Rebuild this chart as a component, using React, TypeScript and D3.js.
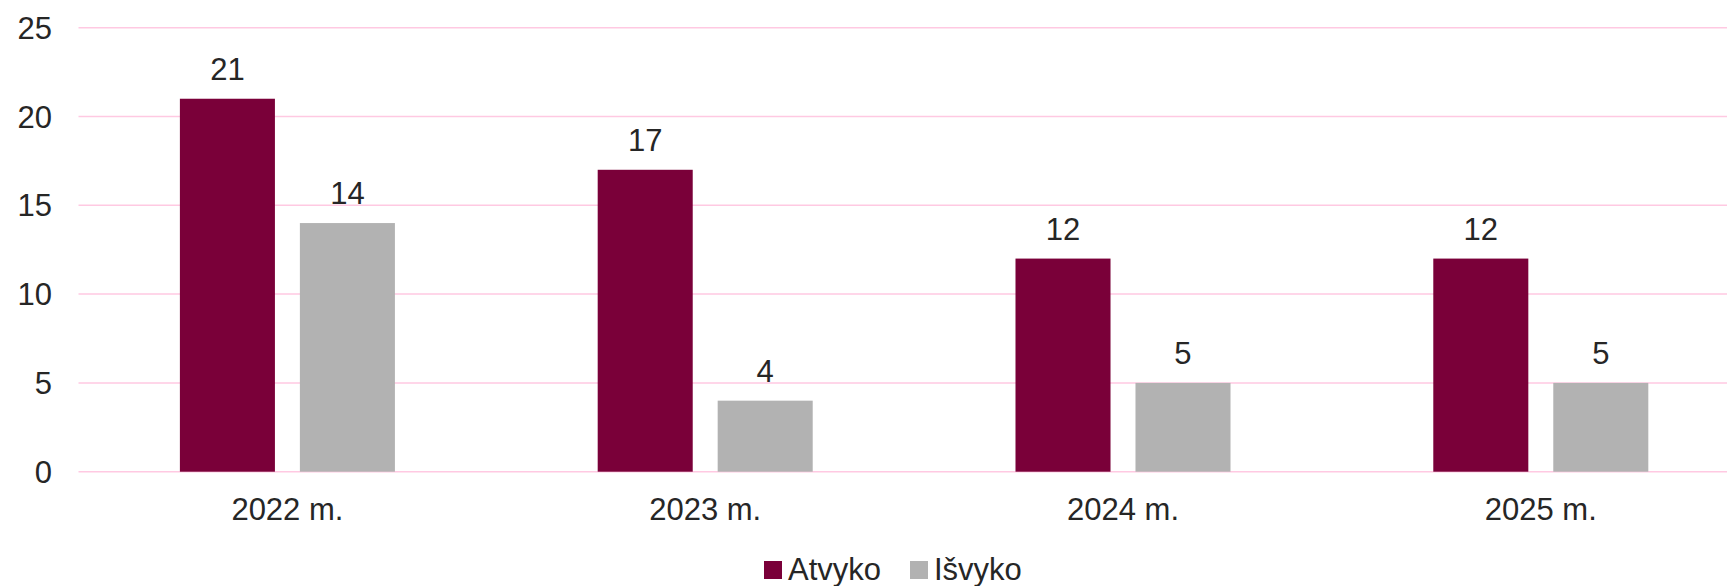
import { useEffect, useRef } from "react";
import * as d3 from "d3";

const categories = ["2022 m.", "2023 m.", "2024 m.", "2025 m."];
const seriesNames = ["Atvyko", "Išvyko"];
const atvyko = [21, 17, 12, 12];
const isvyko = [14, 4, 5, 5];
const yTicks = [0, 5, 10, 15, 20, 25];

const colors = ["#7a0039", "#b2b2b2"];
const gridColor = "#ffc9e2";
const textColor = "#262626";
const font = "'Liberation Sans', Arial, sans-serif";

export default function App() {
  const svgRef = useRef<SVGSVGElement>(null);

  useEffect(() => {
    if (!svgRef.current) return;
    const svg = d3.select(svgRef.current);
    svg.selectAll("*").remove();

    const width = 1727;
    const height = 586;
    const left = 78.5;
    const top = 27.7;
    const bottom = 471.7;
    // plot area runs past the right edge of the picture
    const plotRight = left + 417.8 * categories.length;

    const x0 = d3.scaleBand<string>().domain(categories).range([left, plotRight]);
    const x1 = d3
      .scaleBand<string>()
      .domain(seriesNames)
      .range([0, x0.bandwidth()])
      .paddingInner(0.208)
      .paddingOuter(0.845);
    const y = d3.scaleLinear().domain([0, 25]).range([bottom, top]);

    svg.attr("width", width).attr("height", height);

    // Grid lines
    svg
      .append("g")
      .selectAll("line")
      .data(yTicks)
      .enter()
      .append("line")
      .attr("x1", left)
      .attr("x2", width)
      .attr("y1", (d) => y(d))
      .attr("y2", (d) => y(d))
      .attr("stroke", gridColor)
      .attr("stroke-width", 1.5);

    // Y labels
    svg
      .append("g")
      .selectAll("text")
      .data(yTicks)
      .enter()
      .append("text")
      .attr("x", 52)
      .attr("y", (d) => y(d))
      .attr("dy", "0.36em")
      .attr("text-anchor", "end")
      .attr("font-family", font)
      .attr("font-size", 31)
      .attr("fill", textColor)
      .text((d) => d);

    const rows = categories.map((c, i) => ({ cat: c, values: [atvyko[i], isvyko[i]] }));

    const groups = svg
      .append("g")
      .selectAll("g")
      .data(rows)
      .enter()
      .append("g")
      .attr("transform", (d) => `translate(${x0(d.cat)},0)`);

    // Bars
    groups
      .selectAll("rect")
      .data((d) => d.values.map((v, j) => ({ name: seriesNames[j], value: v, idx: j })))
      .enter()
      .append("rect")
      .attr("x", (d) => x1(d.name)!)
      .attr("y", (d) => y(d.value))
      .attr("width", x1.bandwidth())
      .attr("height", (d) => bottom - y(d.value))
      .attr("fill", (d) => colors[d.idx]);

    // Value labels
    groups
      .selectAll("text")
      .data((d) => d.values.map((v, j) => ({ name: seriesNames[j], value: v })))
      .enter()
      .append("text")
      .attr("x", (d) => x1(d.name)! + x1.bandwidth() / 2)
      .attr("y", (d) => y(d.value) - 19)
      .attr("text-anchor", "middle")
      .attr("font-family", font)
      .attr("font-size", 31)
      .attr("fill", textColor)
      .text((d) => d.value);

    // Category labels
    svg
      .append("g")
      .selectAll("text")
      .data(categories)
      .enter()
      .append("text")
      .attr("x", (d) => x0(d)! + x0.bandwidth() / 2)
      .attr("y", 520)
      .attr("text-anchor", "middle")
      .attr("font-family", font)
      .attr("font-size", 31)
      .attr("fill", textColor)
      .text((d) => d);

    // Legend
    const legendX = [764, 910];
    const legend = svg
      .append("g")
      .selectAll("g")
      .data(seriesNames)
      .enter()
      .append("g")
      .attr("transform", (_d, i) => `translate(${legendX[i]},561)`);

    legend
      .append("rect")
      .attr("width", 18)
      .attr("height", 18)
      .attr("fill", (_d, i) => colors[i]);

    legend
      .append("text")
      .attr("x", 24)
      .attr("y", 19)
      .attr("font-family", font)
      .attr("font-size", 31)
      .attr("fill", textColor)
      .text((d) => d);
  }, []);

  return (
    <svg
      ref={svgRef}
      style={{ position: "absolute", left: 0, top: 0, display: "block", background: "#fff" }}
    />
  );
}
